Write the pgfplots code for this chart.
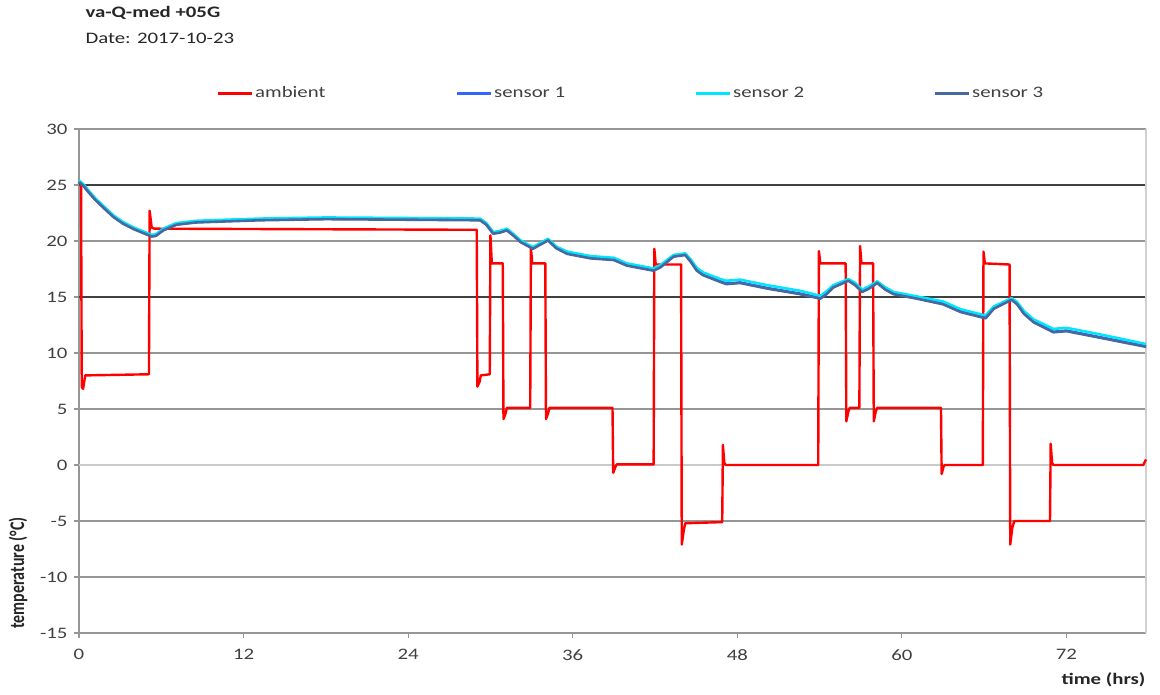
\documentclass[border=0pt]{standalone}
\usepackage{pgfplots}
\pgfplotsset{compat=1.18}
\usepackage{fontspec}
\setmainfont{Carlito}[FakeStretch=1.3]
\newfontfamily\plainfont{Carlito}
\definecolor{amb}{RGB}{255,0,0}
\definecolor{sone}{RGB}{51,102,255}
\definecolor{stwo}{RGB}{0,230,255}
\definecolor{sthree}{RGB}{70,105,160}
\definecolor{txt}{RGB}{64,64,64}
\definecolor{grd}{RGB}{150,150,150}
\begin{document}
\begin{tikzpicture}
\begin{axis}[
  scale only axis,
  width=1067pt, height=504pt,
  xmin=0, xmax=77.8, ymin=-15, ymax=30,
  xtick={0,12,24,36,48,60,72},
  ytick={-15,-10,-5,0,5,10,15,20,25,30},
  ymajorgrids,
  major grid style={grd, line width=1.1pt},
  axis x line*=bottom, axis y line*=left,
  axis line style={grd, line width=1.1pt},
  tick align=outside, major tick length=5pt,
  tick style={grd, line width=1.1pt},
  /pgf/number format/assume math mode=true,
  tick label style={font=\fontsize{16}{19}\selectfont, text=txt},
  yticklabel style={xshift=-3pt},
  xticklabel style={yshift=-8pt},
  clip=false,
  legend columns=4,
  legend style={at={(rel axis cs:0.1284,1.0714)}, anchor=west, draw=none, fill=none,
    inner xsep=0pt, inner ysep=0pt,
    nodes={inner sep=2pt, font=\fontsize{16}{19}\selectfont, text=txt}},
  legend image code/.code={\draw[#1, line width=3pt] (0pt,0pt) -- (34pt,0pt);},
]
\addplot[forget plot, grd!50, line width=2pt] coordinates {(0,0) (77.8,0)};
\addplot[forget plot, black!75, line width=2.6pt] coordinates {(0,25) (77.8,25)};
\addplot[forget plot, black!75, line width=2.6pt] coordinates {(0,15) (77.8,15)};
\draw[grd!45, line width=1.1pt] (rel axis cs:1,0) -- (rel axis cs:1,1);

\addplot[amb, line width=2.4pt, line join=round] coordinates {
(0,25.3)(0.15,25.0)(0.2,7.0)(0.3,6.8)(0.45,8.0)(5.1,8.1)(5.15,22.7)(5.3,21.2)(5.5,21.1)(29.0,21.0)
(29.05,7.0)(29.2,7.4)(29.3,8.0)(29.95,8.1)(30.0,20.5)(30.1,18.0)(30.9,18.0)(30.95,4.1)(31.1,4.6)(31.2,5.1)
(32.9,5.1)(32.95,19.4)(33.05,18.0)(34.0,18.0)(34.05,4.1)(34.2,4.6)(34.3,5.1)(38.9,5.1)(38.95,-0.7)(39.1,-0.2)
(39.2,0.05)(41.9,0.05)(41.95,19.3)(42.05,17.9)(43.9,17.9)(43.95,-7.1)(44.1,-5.8)(44.2,-5.2)(46.9,-5.1)(46.95,1.8)
(47.05,0.2)(47.15,0.0)(53.9,0.0)(53.95,19.1)(54.05,18.0)(55.9,18.0)(55.95,3.9)(56.1,4.8)(56.2,5.1)(56.9,5.1)
(56.95,19.55)(57.05,18.0)(57.9,18.0)(57.95,3.9)(58.1,4.8)(58.2,5.1)(62.85,5.1)(62.9,-0.8)(63.05,-0.1)(63.15,0.0)
(65.9,0.0)(65.95,19.05)(66.05,18.0)(67.85,17.9)(67.9,-7.1)(68.05,-5.6)(68.2,-5.0)(70.8,-5.0)(70.85,1.9)(70.95,0.2)
(71.05,0.0)(77.6,0.0)(77.8,0.5)};
\addlegendentry{\makebox[198pt][l]{ambient}}

\addplot[sone, line width=2.6pt, line join=round] coordinates {
(0,25.3)(0.3,25.0)(0.7,24.4)(1.2,23.7)(1.8,23.0)(2.5,22.2)(3.2,21.6)(4.0,21.1)(4.8,20.7)(5.3,20.45)(5.6,20.5)(6.15,21.0)
(7.1,21.5)(8.5,21.7)(9.55,21.75)(13.2,21.9)(18,22.0)(24,21.95)(29.25,21.9)(29.7,21.5)(30.2,20.7)(30.7,20.8)
(31.2,21.0)(31.7,20.5)(32.2,19.95)(33.1,19.35)(33.6,19.7)(34.2,20.1)(34.8,19.4)(35.6,18.9)(37.3,18.5)(39.0,18.35)
(39.95,17.85)(41.9,17.4)(42.4,17.7)(43.35,18.65)(44.2,18.8)(44.6,18.2)(45.05,17.4)(45.5,17.0)(46.75,16.4)(47.2,16.2)
(48.2,16.3)(50.2,15.8)(52.6,15.3)(54.05,14.9)(54.5,15.3)(55.0,15.9)(56.1,16.5)(56.6,16.1)(57.1,15.5)(57.6,15.8)
(58.2,16.3)(58.8,15.7)(59.4,15.3)(61.1,14.9)(63.0,14.4)(64.3,13.7)(66.1,13.15)(66.7,14.0)(68.0,14.8)(68.4,14.4)
(68.9,13.55)(69.6,12.8)(71.05,11.9)(72.0,12.0)(74.5,11.4)(77.8,10.6)};
\addlegendentry{\makebox[198pt][l]{sensor 1}}

\addplot[stwo, line width=2.6pt, line join=round] coordinates {
(0,25.4)(0.3,25.1)(0.7,24.5)(1.2,23.8)(1.8,23.1)(2.5,22.3)(3.2,21.7)(4.0,21.2)(4.8,20.8)(5.3,20.55)(5.6,20.6)(6.15,21.1)
(7.1,21.6)(8.5,21.8)(9.55,21.85)(13.2,22.0)(18,22.1)(24,22.05)(29.25,22.0)(29.7,21.6)(30.2,20.8)(30.7,20.9)
(31.2,21.1)(31.7,20.6)(32.2,20.05)(33.1,19.45)(33.6,19.8)(34.2,20.2)(34.8,19.5)(35.6,19.05)(37.3,18.65)(39.0,18.5)
(39.95,18.0)(41.9,17.55)(42.4,17.85)(43.35,18.75)(44.2,18.9)(44.6,18.35)(45.05,17.6)(45.5,17.2)(46.75,16.6)(47.2,16.45)
(48.2,16.55)(50.2,16.05)(52.6,15.55)(54.05,15.1)(54.5,15.5)(55.0,16.05)(56.1,16.6)(56.6,16.25)(57.1,15.65)(57.6,15.95)
(58.2,16.4)(58.8,15.85)(59.4,15.45)(61.1,15.05)(63.0,14.6)(64.3,13.9)(66.1,13.35)(66.7,14.15)(68.0,14.9)(68.4,14.55)
(68.9,13.75)(69.6,13.0)(71.05,12.15)(72.0,12.25)(74.5,11.65)(77.8,10.8)};
\addlegendentry{\makebox[198pt][l]{sensor 2}}

\addplot[sthree, line width=2.6pt, line join=round] coordinates {
(0,25.25)(0.3,24.95)(0.7,24.35)(1.2,23.65)(1.8,22.95)(2.5,22.15)(3.2,21.55)(4.0,21.05)(4.8,20.65)(5.3,20.4)(5.6,20.45)(6.15,20.95)
(7.1,21.45)(8.5,21.65)(9.55,21.7)(13.2,21.85)(18,21.95)(24,21.9)(29.25,21.85)(29.7,21.45)(30.2,20.65)(30.7,20.75)
(31.2,20.95)(31.7,20.45)(32.2,19.9)(33.1,19.3)(33.6,19.65)(34.2,20.05)(34.8,19.35)(35.6,18.85)(37.3,18.45)(39.0,18.3)
(39.95,17.8)(41.9,17.35)(42.4,17.65)(43.35,18.6)(44.2,18.75)(44.6,18.15)(45.05,17.35)(45.5,16.95)(46.75,16.35)(47.2,16.15)
(48.2,16.25)(50.2,15.75)(52.6,15.25)(54.05,14.85)(54.5,15.25)(55.0,15.85)(56.1,16.45)(56.6,16.05)(57.1,15.45)(57.6,15.75)
(58.2,16.25)(58.8,15.65)(59.4,15.25)(61.1,14.85)(63.0,14.35)(64.3,13.65)(66.1,13.1)(66.7,13.95)(68.0,14.75)(68.4,14.35)
(68.9,13.5)(69.6,12.75)(71.05,11.85)(72.0,11.95)(74.5,11.35)(77.8,10.55)};
\addlegendentry{sensor 3}

\node[anchor=base west, font=\fontsize{16}{19}\selectfont\bfseries, text=black!85] at ([xshift=3pt,yshift=111pt]rel axis cs:0,1) {va-Q-med +05G};
\node[anchor=base west, font=\fontsize{16}{19}\selectfont, text=black!85] at ([xshift=3pt,yshift=85pt]rel axis cs:0,1) {Date: 2017-10-23};
\node[rotate=90, yscale=1.3, transform shape, anchor=west, font=\plainfont\fontsize{16}{19}\selectfont\bfseries, text=black!85] at ([xshift=-61pt,yshift=1pt]rel axis cs:0,0) {temperature (°C)};
\node[anchor=east, font=\fontsize{16}{19}\selectfont\bfseries, text=black!85] at ([xshift=3pt,yshift=-47pt]rel axis cs:1,0) {time (hrs)};
\coordinate (bbSW) at (rel axis cs:0,0);
\coordinate (bbNE) at (rel axis cs:1,1);
\end{axis}
\pgfresetboundingbox
\path ([xshift=-79pt,yshift=-61pt]bbSW) rectangle ([xshift=14pt,yshift=129pt]bbNE);
\end{tikzpicture}
\end{document}
